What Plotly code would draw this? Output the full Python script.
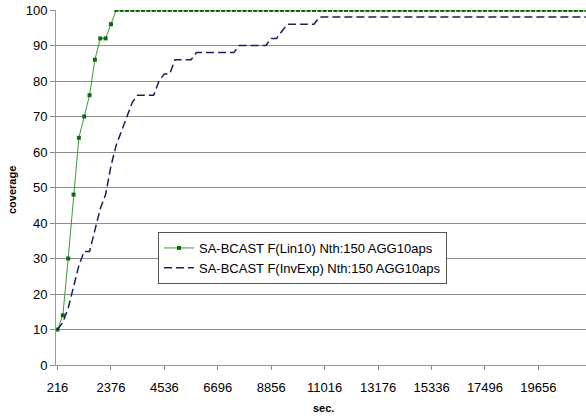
import plotly.graph_objects as go

# x categories: seconds, every 216 s
seconds = [216 * (i + 1) for i in range(100)]
tick_labels = [216 + 2160 * k for k in range(10)]

lin10 = [10, 14, 30, 48, 64, 70, 76, 86, 92, 92, 96] + [100] * 89
invexp = ([10, 12, 16, 22, 28, 32, 32, 38, 44, 48, 56, 62, 66, 70, 74, 76,
           76, 76, 76, 80, 82, 82, 86, 86, 86, 86]
          + [88] * 8          # i26..33
          + [90] * 6          # i34..39
          + [92, 92, 94]      # i40..42
          + [96] * 6          # i43..48
          + [98] * 51)        # i49..99

name1 = "SA-BCAST F(Lin10) Nth:150 AGG10aps"
name2 = "SA-BCAST F(InvExp) Nth:150 AGG10aps"

fig = go.Figure()
fig.add_trace(go.Scatter(
    x=seconds, y=lin10, mode="lines+markers", name=name1,
    line=dict(color="#3a9a3a", width=1),
    marker=dict(symbol="square", size=4, color="#0f6a0f"),
))
fig.add_trace(go.Scatter(
    x=seconds, y=invexp, mode="lines", name=name2,
    line=dict(color="#1e1e5e", width=1.5, dash="8px,4px"),
))

L, T, B = 56, 10, 52
W, H = 586, 417
pw = W - L
ph = H - T - B
spp = (21600 - 216) / 529.0

fig.update_layout(
    width=W, height=H,
    margin=dict(l=L, r=0, t=T, b=B),
    paper_bgcolor="white", plot_bgcolor="white",
    font=dict(family="Liberation Sans, Arial, sans-serif", size=13, color="black"),
    showlegend=True,
    legend=dict(
        x=(158 - L) / pw, y=(H - B - 232) / ph, xanchor="left", yanchor="top",
        bgcolor="white", bordercolor="#555555", borderwidth=1,
        font=dict(size=13, color="black"),
    ),
    xaxis=dict(
        range=[216 - 1.5 * spp, 216 + 528.5 * spp],
        tickmode="array", tickvals=tick_labels, ticktext=[str(v) for v in tick_labels],
        ticks="outside", ticklen=4, tickcolor="#888888",
        ticklabelstandoff=6,
        showline=True, linecolor="#999999", linewidth=1,
        showgrid=False, zeroline=False,
        tickfont=dict(size=13),
    ),
    yaxis=dict(
        range=[0, 100], tickmode="array", tickvals=list(range(0, 101, 10)),
        ticks="outside", ticklen=5, tickcolor="#888888",
        showline=True, linecolor="#999999", linewidth=1,
        showgrid=True, gridcolor="#8c8c8c", gridwidth=1,
        zeroline=False, tickfont=dict(size=13),
    ),
    annotations=[
        dict(text="<b>coverage</b>", xref="paper", yref="paper",
             x=(12 - L) / pw, y=(H - B - 190) / ph, showarrow=False,
             textangle=-90, font=dict(size=11), xanchor="center", yanchor="middle"),
        dict(text="<b>sec.</b>", xref="paper", yref="paper",
             x=(323 - L) / pw, y=(H - B - 408) / ph, showarrow=False,
             font=dict(size=11), xanchor="center", yanchor="middle"),
    ],
)

fig.write_html("out.html")
